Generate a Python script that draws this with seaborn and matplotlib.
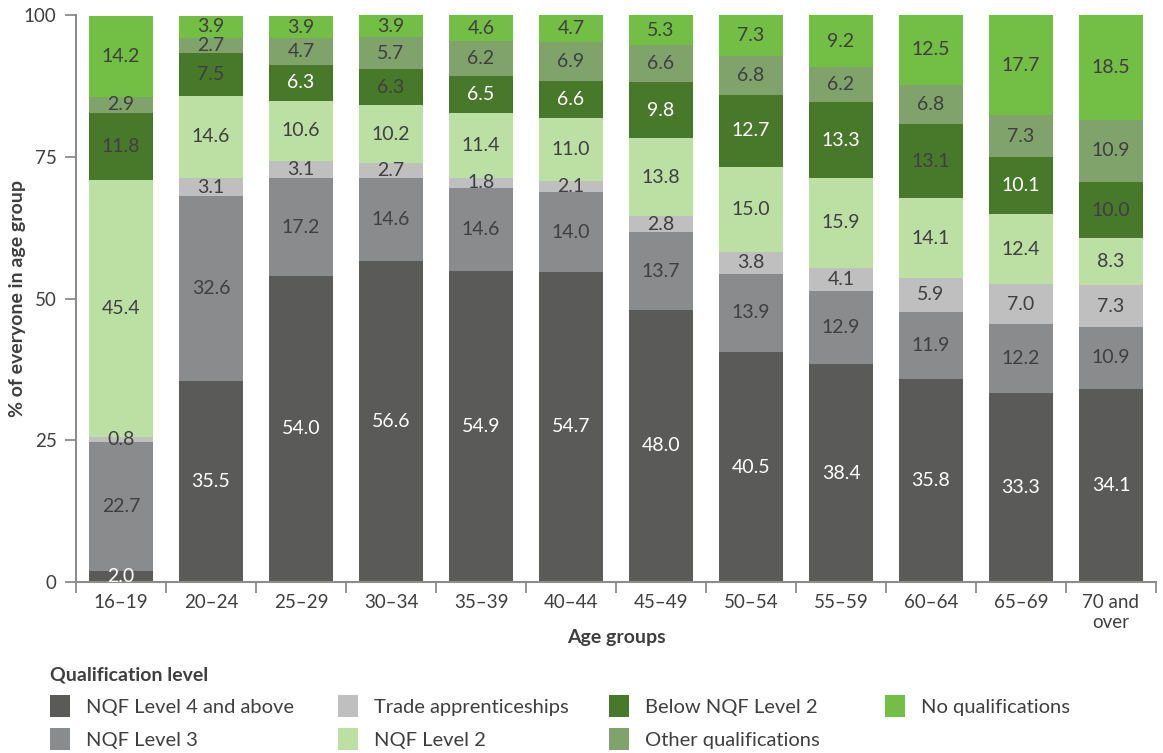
import numpy as np
import pandas as pd
import matplotlib
matplotlib.use("Agg")
import matplotlib.pyplot as plt
from matplotlib.patches import Patch
import seaborn as sns

# ---- data -------------------------------------------------------------
age_groups = ["16–19", "20–24", "25–29", "30–34", "35–39", "40–44",
              "45–49", "50–54", "55–59", "60–64", "65–69", "70 and\nover"]

series_names = ["NQF Level 4 and above", "NQF Level 3", "Trade apprenticeships",
                "NQF Level 2", "Below NQF Level 2", "Other qualifications",
                "No qualifications"]

nqf4_plus = [2.0, 35.5, 54.0, 56.6, 54.9, 54.7, 48.0, 40.5, 38.4, 35.8, 33.3, 34.1]
nqf3 = [22.7, 32.6, 17.2, 14.6, 14.6, 14.0, 13.7, 13.9, 12.9, 11.9, 12.2, 10.9]
trade = [0.8, 3.1, 3.1, 2.7, 1.8, 2.1, 2.8, 3.8, 4.1, 5.9, 7.0, 7.3]
nqf2 = [45.4, 14.6, 10.6, 10.2, 11.4, 11.0, 13.8, 15.0, 15.9, 14.1, 12.4, 8.3]
below_nqf2 = [11.8, 7.5, 6.3, 6.3, 6.5, 6.6, 9.8, 12.7, 13.3, 13.1, 10.1, 10.0]
other_quals = [2.9, 2.7, 4.7, 5.7, 6.2, 6.9, 6.6, 6.8, 6.2, 6.8, 7.3, 10.9]
no_quals = [14.2, 3.9, 3.9, 3.9, 4.6, 4.7, 5.3, 7.3, 9.2, 12.5, 17.7, 18.5]

series_values = [nqf4_plus, nqf3, trade, nqf2, below_nqf2, other_quals, no_quals]

# ---- styling ----------------------------------------------------------
colors = ["#5a5a58", "#8a8b8d", "#bfbfbf", "#bce0a3",
          "#48792b", "#80a36b", "#73be44"]
dark_text = "#3f3f3f"
label_colors = ["white", dark_text, dark_text, dark_text, None, dark_text, dark_text]
below_white = [False, False, True, False, True, True, True, True, True, False, True, False]

sns.set_theme(style="white")
plt.rcParams["font.family"] = ["Lato", "DejaVu Sans"]

fig = plt.figure(figsize=(11.63, 7.53), dpi=100)
ax = fig.add_axes([76 / 1163, 1 - 582 / 753, (1156 - 76) / 1163, (582 - 15) / 753])

# long-form frame with cumulative tops for stacking
rows = []
for s_idx, (name, vals) in enumerate(zip(series_names, series_values)):
    for a_idx, age in enumerate(age_groups):
        rows.append({"age": age, "series": name, "value": vals[a_idx]})
df = pd.DataFrame(rows)
df["series"] = pd.Categorical(df["series"], categories=series_names, ordered=True)
df = df.sort_values(["age", "series"])
df["top"] = df.groupby("age", sort=False)["value"].cumsum()

# draw from the top layer down so lower segments sit over the taller bars
for s_idx in range(len(series_names) - 1, -1, -1):
    name = series_names[s_idx]
    sub = df[df["series"] == name].set_index("age").loc[age_groups].reset_index()
    sns.barplot(data=sub, x="age", y="top", order=age_groups, color=colors[s_idx],
                saturation=1, width=0.72, linewidth=0, ax=ax, errorbar=None)

# value labels in segment centres
for s_idx, name in enumerate(series_names):
    sub = df[df["series"] == name].set_index("age").loc[age_groups]
    for a_idx, age in enumerate(age_groups):
        val = sub.loc[age, "value"]
        top = sub.loc[age, "top"]
        if s_idx == 4:
            c = "white" if below_white[a_idx] else dark_text
        else:
            c = label_colors[s_idx]
        ax.text(a_idx, top - val / 2, f"{val:.1f}", ha="center", va="center",
                fontsize=14, color=c)

# axes
axis_grey = "#8c8c8c"
ax.set_xlim(-0.5, len(age_groups) - 0.5)
ax.set_ylim(0, 100)
ax.set_yticks([0, 25, 50, 75, 100])
ax.set_xticks(range(len(age_groups)))
ax.set_xticklabels(age_groups, linespacing=1.15)
ax.set_xticks(np.arange(-0.5, len(age_groups), 1), minor=True)
ax.tick_params(axis="x", which="major", length=0, pad=9, labelsize=13.5, labelcolor=dark_text)
ax.tick_params(axis="x", which="minor", length=8, width=1.3, color=axis_grey, bottom=True)
ax.tick_params(axis="y", which="major", length=8, width=1.3, color=axis_grey, left=True,
               pad=6, labelsize=13.5, labelcolor=dark_text)
for side in ["top", "right"]:
    ax.spines[side].set_visible(False)
for side in ["left", "bottom"]:
    ax.spines[side].set_color(axis_grey)
    ax.spines[side].set_linewidth(1.5)
ax.spines["left"].set_bounds(0, 100)

ax.set_xlabel("Age groups", fontsize=14, fontweight="bold", color=dark_text)
ax.xaxis.set_label_coords(0.5, -0.083)
ax.set_ylabel("% of everyone in age group", fontsize=14, fontweight="bold",
              color=dark_text)
ax.yaxis.set_label_coords(-0.046, 0.5)

# legend: title plus four columns
fig.text(50 / 1163, 1 - 675 / 753, "Qualification level", fontsize=14,
         fontweight="bold", color=dark_text, va="center", ha="left")
col_x = [50, 338, 609, 885]
col_members = [[0, 1], [2, 3], [4, 5], [6]]
for x, members in zip(col_x, col_members):
    handles = [Patch(facecolor=colors[i], edgecolor="none", label=series_names[i])
               for i in members]
    leg = fig.legend(handles=handles, loc="upper left",
                     bbox_to_anchor=(x / 1163, 1 - 695 / 753), frameon=False,
                     borderpad=0, borderaxespad=0, fontsize=14.5, handlelength=1.0,
                     handleheight=1.3, handletextpad=0.8, labelspacing=0.55)
    for t in leg.get_texts():
        t.set_color(dark_text)

fig.savefig("out.png", dpi=100)
